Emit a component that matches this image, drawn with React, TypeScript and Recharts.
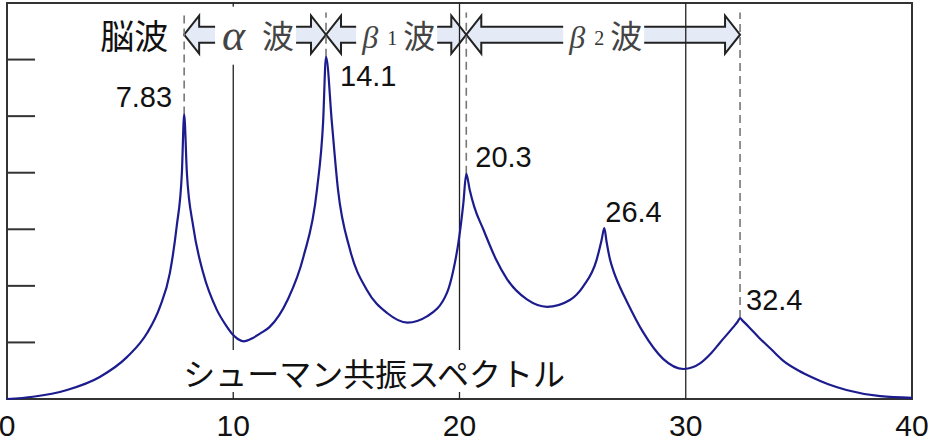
import { Line, LineChart, ReferenceArea, ReferenceDot, ReferenceLine, XAxis, YAxis } from "recharts";

// spectrum (Hz, relative amplitude)
const freqs = [
  0, 1.15, 2.65, 4.1, 5.3, 6.2, 6.76, 7.2, 7.5, 7.73, 7.83, 7.95, 8.23, 8.67, 9.27, 9.7, 10.0,
  10.2, 10.45, 10.87, 11.2, 11.6, 12.4, 13.1, 13.7, 13.97, 14.1, 14.36, 14.63, 15.16, 15.9,
  16.8, 17.7, 18.56, 19.45, 19.73, 19.95, 20.17, 20.3, 20.45, 20.65, 21.05, 21.6, 22.1, 22.98,
  23.87, 24.88, 25.47, 26.06, 26.28, 26.4, 26.5, 26.65, 26.8, 27.1, 27.4, 28.1, 29.0, 29.9,
  30.3, 30.63, 31.1, 31.52, 32.1, 32.3, 32.4, 32.5, 32.8, 33.25, 33.8, 34.3, 35.0, 35.6, 36.3,
  37.1, 38.6, 40,
];
const amps = [
  0, 0.04, 0.16, 0.39, 0.74, 1.17, 1.63, 2.23, 3.05, 4.0, 5.03, 4.0, 3.05, 2.23, 1.58, 1.29, 1.13,
  1.06, 1.02, 1.08, 1.16, 1.27, 1.75, 2.51, 3.7, 4.88, 6.05, 4.88, 3.7, 2.64, 1.93,
  1.52, 1.35, 1.46, 1.88, 2.28, 2.76, 3.46, 3.98, 3.7, 3.4, 3.0, 2.48, 2.12, 1.76,
  1.63, 1.75, 1.99, 2.46, 2.81, 3.02, 2.78, 2.47, 2.27, 1.97, 1.72, 1.19, 0.71, 0.53,
  0.56, 0.63, 0.8, 1.0, 1.27, 1.37, 1.43, 1.39, 1.27, 1.08, 0.87, 0.68, 0.5, 0.38, 0.26,
  0.16, 0.05, 0.02,
];

const peakFreqs = [7.83, 14.1, 20.3, 26.4, 32.4];
const peakLabels = ["7.83", "14.1", "20.3", "26.4", "32.4"];

const xTicks = [0, 10, 20, 30, 40];
const yTicks = [1, 2, 3, 4, 5, 6];
const gridFreqs = [10, 20, 30];

const bandStarts = [7.83, 14.1, 20.3];
const bandEnds = [14.1, 20.3, 32.4];
const bandGreek = ["α", "β", "β"];
const bandSub = ["", "1", "2"];

const data = freqs.map((f, i) => ({ f, a: amps[i] }));
const ampAt = (f: number) => amps[freqs.indexOf(f)];
const peakAmps = peakFreqs.map(ampAt);
const dashFreqs = Array.from(new Set([...bandStarts, ...bandEnds]));

const Y_MAX = 7;
const DASH_TOP = 6.83;
const BAND_LO = 6.12;
const BAND_HI = 6.76;
const BAND_MID = (BAND_LO + BAND_HI) / 2;

const SANS = "'Liberation Sans', Arial, sans-serif";
const JP = "'Noto Sans CJK JP', sans-serif";
const SERIF = "'Liberation Serif', 'Times New Roman', serif";

// where each peak number sits relative to its peak
const peakLabelPos = [
  { dx: -12, dy: -7, anchor: "end" },
  { dx: 14, dy: 29, anchor: "start" },
  { dx: 9, dy: -7, anchor: "start" },
  { dx: 1, dy: -6, anchor: "start" },
  { dx: 6, dy: -8, anchor: "start" },
];

function BandArrow(props: any) {
  const { x, y, width, height } = props;
  const cy = y + height / 2;
  const x1 = x;
  const x2 = x + width;
  const hl = 15;
  const hh = 19;
  const sh = 8;
  const pts = [
    [x1, cy],
    [x1 + hl, cy - hh],
    [x1 + hl, cy - sh],
    [x2 - hl, cy - sh],
    [x2 - hl, cy - hh],
    [x2, cy],
    [x2 - hl, cy + hh],
    [x2 - hl, cy + sh],
    [x1 + hl, cy + sh],
    [x1 + hl, cy + hh],
  ]
    .map((p) => p.join(","))
    .join(" ");
  return <polygon points={pts} fill="#e4eaf6" stroke="#222" strokeWidth={2} strokeLinejoin="miter" />;
}

function BandText(props: any) {
  const { cx, cy, greek, sub } = props;
  const base = cy + 13;
  return (
    <g>
      <rect x={cx - 40} y={cy - 28} width={81} height={58} fill="#fff" />
      {sub ? (
        <>
          <text x={cx - 34} y={base} fontFamily={SERIF} fontStyle="italic" fontSize={32} fill="#444">
            {greek}
          </text>
          <text x={cx - 9} y={base - 3} fontFamily={SERIF} fontSize={20} fill="#333">
            {sub}
          </text>
        </>
      ) : (
        <text x={cx - 33} y={base + 2} fontFamily={SERIF} fontStyle="italic" fontSize={44} fill="#444">
          {greek}
        </text>
      )}
      <text x={cx + 7} y={base} fontFamily={JP} fontSize={32} fill="#444">
        波
      </text>
    </g>
  );
}

export default function App() {
  return (
    <div style={{ position: "absolute", left: 0, top: 0, background: "#fff" }}>
      <LineChart width={930} height={448} data={data} margin={{ top: 3, right: 18, left: 7, bottom: 9 }}>
        <XAxis
          dataKey="f"
          type="number"
          domain={[0, 40]}
          ticks={xTicks}
          axisLine={false}
          tickLine={false}
          tickSize={6}
          tickMargin={10}
          height={40}
          interval={0}
          tick={{ fontSize: 30, fill: "#111", fontFamily: SANS }}
        />
        <YAxis
          type="number"
          domain={[0, Y_MAX]}
          ticks={yTicks}
          interval={0}
          mirror
          width={40}
          axisLine={false}
          tickSize={28}
          tickLine={{ stroke: "#333", strokeWidth: 2 }}
          tick={{ fontSize: 1, fill: "none" }}
          tickFormatter={() => " "}
        />
        <ReferenceArea x1={0} x2={40} y1={0} y2={Y_MAX} fill="none" stroke="#333" strokeWidth={2} fillOpacity={0} />
        {bandStarts.map((s, i) => (
          <ReferenceArea
            key={`band-${i}`}
            x1={s}
            x2={bandEnds[i]}
            y1={BAND_LO}
            y2={BAND_HI}
            shape={(p: any) => <BandArrow {...p} />}
          />
        ))}
        {gridFreqs.map((g) => (
          <ReferenceLine key={`grid-${g}`} x={g} stroke="#222" strokeWidth={1.3} />
        ))}
        {dashFreqs.map((f) => (
          <ReferenceLine
            key={`dash-${f}`}
            segment={[
              { x: f, y: ampAt(f) },
              { x: f, y: DASH_TOP },
            ]}
            stroke="#777"
            strokeWidth={1.6}
            strokeDasharray="8 5"
          />
        ))}
        <Line
          dataKey="a"
          type="monotone"
          stroke="#1c1c8e"
          strokeWidth={2.2}
          dot={false}
          activeDot={false}
          isAnimationActive={false}
        />
        {bandStarts.map((s, i) => (
          <ReferenceDot
            key={`bt-${i}`}
            x={(s + bandEnds[i]) / 2}
            y={BAND_MID}
            ifOverflow="visible"
            shape={(p: any) => <BandText {...p} greek={bandGreek[i]} sub={bandSub[i]} />}
          />
        ))}
        <ReferenceDot
          x={bandStarts[0]}
          y={BAND_MID}
          ifOverflow="visible"
          shape={(p: any) => (
            <text x={p.cx - 16} y={p.cy + 14} textAnchor="end" fontFamily={JP} fontSize={34} fill="#111">
              脳波
            </text>
          )}
        />
        <ReferenceDot
          x={peakFreqs[0]}
          y={0}
          ifOverflow="visible"
          shape={(p: any) => (
            <g>
              <rect x={p.cx - 4} y={p.cy - 49} width={390} height={42} fill="#fff" />
              <text x={p.cx - 1} y={p.cy - 13} fontFamily={JP} fontSize={32} fill="#111">
                シューマン共振スペクトル
              </text>
            </g>
          )}
        />
        {peakFreqs.map((f, i) => (
          <ReferenceDot
            key={`pl-${f}`}
            x={f}
            y={peakAmps[i]}
            ifOverflow="visible"
            shape={(p: any) => (
              <text
                x={p.cx + peakLabelPos[i].dx}
                y={p.cy + peakLabelPos[i].dy}
                textAnchor={peakLabelPos[i].anchor}
                fontFamily={SANS}
                fontSize={29}
                fill="#111"
              >
                {peakLabels[i]}
              </text>
            )}
          />
        ))}
      </LineChart>
    </div>
  );
}
